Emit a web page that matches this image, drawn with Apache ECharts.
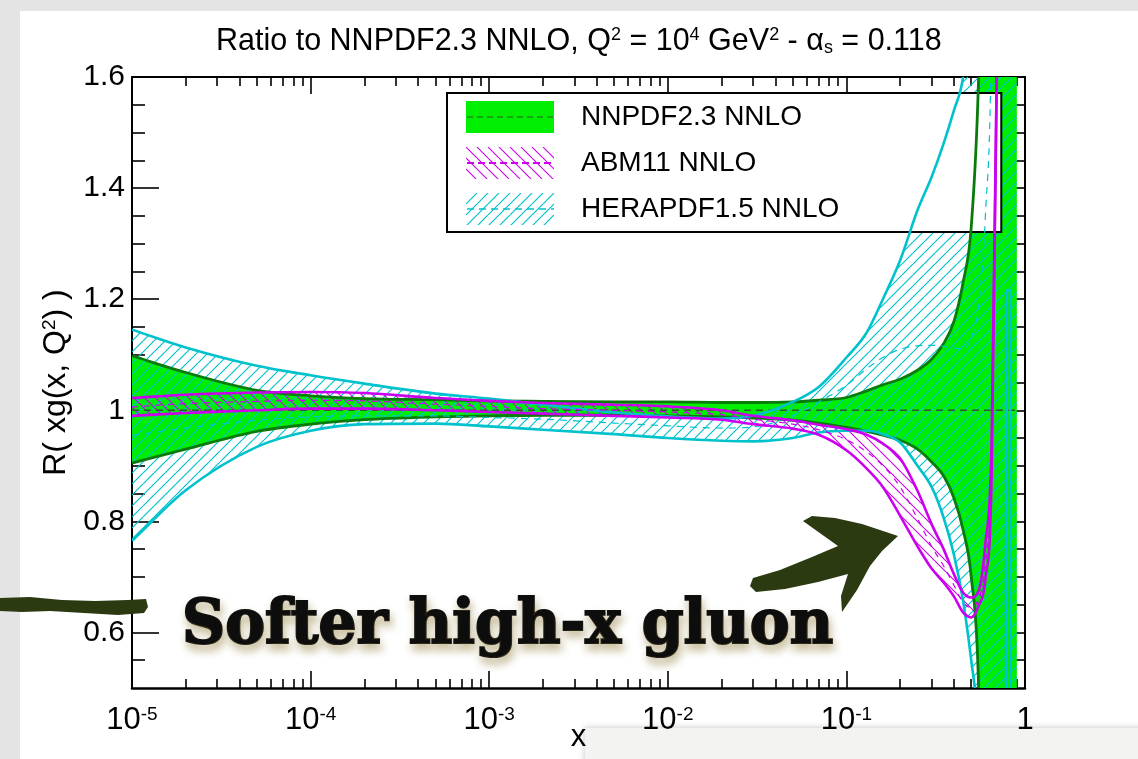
<!DOCTYPE html>
<html>
<head>
<meta charset="utf-8">
<title>Ratio to NNPDF2.3 NNLO</title>
<script src="https://cdn.jsdelivr.net/npm/echarts@6/dist/echarts.min.js"></script>
<style>
  html, body { margin: 0; padding: 0; background: #fff; }
  #chart { width: 1138px; height: 759px; }
</style>
</head>
<body>
<div id="chart"></div>
<script>
// ---- data: gluon ratio R(xg(x,Q^2)) to NNPDF2.3 NNLO at Q^2 = 10^4 GeV^2 ----
const xValues = [1e-5, 2e-5, 5e-5, 1e-4, 2e-4, 5e-4, 1e-3, 2e-3, 5e-3, 0.01, 0.02, 0.03, 0.05, 0.07,
  0.1, 0.13, 0.16, 0.2, 0.25, 0.3, 0.35, 0.4, 0.45, 0.5, 0.55, 0.6, 0.65, 0.7, 0.78, 0.785, 0.825, 0.83, 0.9];

const nnpdfUpper   = [1.098, 1.068, 1.036, 1.026, 1.021, 1.019, 1.017, 1.016, 1.015, 1.015, 1.014, 1.014, 1.015, 1.018,
  1.023, 1.035, 1.046, 1.056, 1.072, 1.092, 1.12, 1.16, 1.23, 1.33, 1.6, 2.2, 3, 3, 3, 3, 3, 3, 3];
const nnpdfLower   = [0.905, 0.930, 0.962, 0.975, 0.983, 0.988, 0.990, 0.991, 0.991, 0.990, 0.988, 0.986, 0.982, 0.977,
  0.969, 0.962, 0.955, 0.946, 0.930, 0.907, 0.882, 0.842, 0.785, 0.700, 0.50, -0.2, -1, -1, -1, -1, -1, -1, -1];
const nnpdfCentral = [1, 1, 1, 1, 1, 1, 1, 1, 1, 1, 1, 1, 1, 1, 1, 1, 1, 1, 1, 1, 1, 1, 1, 1, 1, 1, 1, 1, 1, 1, 1, 1, 1];

const abmUpper   = [1.022, 1.028, 1.032, 1.033, 1.031, 1.022, 1.017, 1.013, 1.010, 1.007, 1.000, 0.990, 0.982, 0.974,
  0.966, 0.956, 0.940, 0.913, 0.855, 0.795, 0.750, 0.705, 0.672, 0.663, 0.675, 0.760, 0.940, 1.7, 3, 3, 3, 3, 3];
const abmLower   = [0.990, 0.995, 1.000, 1.003, 1.003, 1.000, 0.997, 0.994, 0.990, 0.987, 0.983, 0.975, 0.967, 0.956,
  0.928, 0.895, 0.862, 0.810, 0.755, 0.715, 0.690, 0.665, 0.636, 0.627, 0.648, 0.695, 0.880, 1.7, 3, 3, 3, 3, 3];
const abmCentral = [1.006, 1.012, 1.016, 1.018, 1.017, 1.011, 1.007, 1.003, 1.000, 0.997, 0.992, 0.984, 0.975, 0.965,
  0.947, 0.925, 0.900, 0.862, 0.805, 0.755, 0.720, 0.685, 0.654, 0.645, 0.660, 0.725, 0.910, 1.7, 3, 3, 3, 3, 3];

const heraUpper   = [1.145, 1.113, 1.080, 1.063, 1.048, 1.030, 1.021, 1.010, 0.996, 0.989, 0.985, 0.990, 1.015, 1.042,
  1.095, 1.140, 1.200, 1.270, 1.360, 1.420, 1.480, 1.540, 1.600, 1.75, 2.0, 3, 3, 3, 3, 3, 3, 3, 3];
const heraLower   = [0.765, 0.856, 0.934, 0.963, 0.975, 0.976, 0.971, 0.965, 0.957, 0.950, 0.945, 0.944, 0.950, 0.960,
  0.963, 0.963, 0.957, 0.942, 0.900, 0.862, 0.807, 0.740, 0.657, 0.550, 0.430, 0.2, 0, -0.5, -0.5, 1.216, 1.216, -0.5, -0.5];
const heraCentral = [0.955, 0.968, 0.982, 0.988, 0.990, 0.990, 0.987, 0.984, 0.977, 0.972, 0.968, 0.970, 0.990, 1.015,
  1.045, 1.075, 1.095, 1.110, 1.116, 1.117, 1.115, 1.112, 1.110, 1.130, 1.190, 1.35, 1.7, 3, 3, 3, 3, 3, 3];

const setNames = ['NNPDF2.3 NNLO', 'ABM11 NNLO', 'HERAPDF1.5 NNLO'];

// axis ticks
const yMajorTicks = [0.6, 0.8, 1.0, 1.2, 1.4, 1.6];
const yMinorTicks = [0.55, 0.65, 0.7, 0.75, 0.85, 0.9, 0.95, 1.05, 1.1, 1.15, 1.25, 1.3, 1.35, 1.45, 1.5, 1.55];
const xDecades = [-5, -4, -3, -2, -1];
const xMinorMultiples = [2, 3, 4, 5, 6, 7, 8, 9];

// ---- styling ----
const FONT = '"Liberation Sans", Arial, Helvetica, sans-serif';
const GREEN_FILL = '#00ee00';
const GREEN_LINE = '#0a7a0a';
const GREEN_DASH = '#2c5a2c';
const MAGENTA = '#cc00ee';
const CYAN = '#00c2cc';
const ARROW = '#2b3a10';

function hatchCanvas(color, dir, size, width) {
  const c = document.createElement('canvas');
  c.width = size; c.height = size;
  const g = c.getContext('2d');
  g.strokeStyle = color; g.lineWidth = width;
  g.beginPath();
  for (const o of [-size, 0, size]) {
    if (dir === '/') { g.moveTo(o, size); g.lineTo(o + size, 0); }
    else { g.moveTo(o, 0); g.lineTo(o + size, size); }
  }
  g.stroke();
  return c;
}
const cyanHatch = { image: hatchCanvas(CYAN, '/', 11, 1.2), repeat: 'repeat' };
const magentaHatch = { image: hatchCanvas(MAGENTA, '\\', 11, 1.1), repeat: 'repeat' };

// ---- smooth monotone path through pixel points ----
function monotoneSegments(p) {
  const n = p.length, d = [], m = new Array(n);
  for (let i = 0; i < n - 1; i++) {
    const dx = p[i + 1][0] - p[i][0];
    d.push(dx > 1e-9 ? (p[i + 1][1] - p[i][1]) / dx : 0);
  }
  m[0] = d[0]; m[n - 1] = d[n - 2];
  for (let i = 1; i < n - 1; i++) m[i] = d[i - 1] * d[i] <= 0 ? 0 : (d[i - 1] + d[i]) / 2;
  for (let i = 0; i < n - 1; i++) {
    if (d[i] === 0) { m[i] = 0; m[i + 1] = 0; continue; }
    const a = m[i] / d[i], b = m[i + 1] / d[i], s = a * a + b * b;
    if (s > 9) { const t = 3 / Math.sqrt(s); m[i] = t * a * d[i]; m[i + 1] = t * b * d[i]; }
  }
  const segs = [];
  for (let i = 0; i < n - 1; i++) {
    const [x0, y0] = p[i], [x1, y1] = p[i + 1], h = (x1 - x0) / 3;
    segs.push([p[i], [x0 + h, y0 + m[i] * h], [x1 - h, y1 - m[i + 1] * h], p[i + 1]]);
  }
  return segs;
}
const f = v => v.toFixed(2);
const pt = q => f(q[0]) + ' ' + f(q[1]);
function forwardPath(segs) {
  let s = 'M' + pt(segs[0][0]);
  segs.forEach(g => { s += ' C' + pt(g[1]) + ' ' + pt(g[2]) + ' ' + pt(g[3]); });
  return s;
}
function reversePath(segs) {
  let s = ' L' + pt(segs[segs.length - 1][3]);
  for (let i = segs.length - 1; i >= 0; i--) {
    const g = segs[i];
    s += ' C' + pt(g[2]) + ' ' + pt(g[1]) + ' ' + pt(g[0]);
  }
  return s;
}
const toPixels = (api, ys) => xValues.map((x, i) => api.coord([x, ys[i]]));

function bandFill(name, upper, lower, fill, z) {
  return {
    type: 'custom', name, coordinateSystem: 'cartesian2d', xAxisIndex: 0, yAxisIndex: 0,
    clip: true, silent: true, z,
    itemStyle: { color: typeof fill === 'string' ? fill : CYAN },
    data: [[xValues[0], upper[0]]],
    encode: { x: 0, y: 1 },
    renderItem: (params, api) => {
      const up = monotoneSegments(toPixels(api, upper));
      const lo = monotoneSegments(toPixels(api, lower));
      return {
        type: 'path',
        shape: { pathData: forwardPath(up) + reversePath(lo) + ' Z' },
        style: { fill: fill, stroke: 'none' }
      };
    }
  };
}
function bandLines(name, curves, z) {
  return {
    type: 'custom', name, coordinateSystem: 'cartesian2d', xAxisIndex: 0, yAxisIndex: 0,
    clip: true, silent: true, z,
    data: [[xValues[0], curves[0].values[0]]],
    encode: { x: 0, y: 1 },
    renderItem: (params, api) => ({
      type: 'group',
      children: curves.map(c => ({
        type: 'path',
        shape: { pathData: forwardPath(monotoneSegments(toPixels(api, c.values))) },
        style: { fill: 'none', stroke: c.color, lineWidth: c.width, lineDash: c.dash || null, lineJoin: 'round' }
      }))
    })
  };
}

// ---- axes ----
const tickLine = { color: '#000', width: 1.6 };
function xAxisDef(opts) {
  return Object.assign({
    min: 1e-5, max: 1, splitLine: { show: false },
    axisLine: { show: false, onZero: false },
    axisLabel: { show: false }
  }, opts);
}
const xMinorExponents = [];
xDecades.forEach(d => xMinorMultiples.forEach(m => xMinorExponents.push(d + Math.log10(m))));

const xAxes = [
  xAxisDef({
    type: 'log', logBase: 10, position: 'bottom',
    axisLine: { show: true, onZero: false, lineStyle: { color: '#000', width: 2.6 } },
    axisTick: { show: true, inside: true, length: 17, lineStyle: tickLine },
    axisLabel: {
      show: true, margin: 17, showMinLabel: true, showMaxLabel: true,
      formatter: v => v >= 0.999 ? '{b|1}' : '{b|10}{s|' + Math.round(Math.log10(v)) + '}',
      rich: {
        b: { fontFamily: FONT, fontSize: 31, color: '#000' },
        s: { fontFamily: FONT, fontSize: 19, color: '#000', verticalAlign: 'top' }
      }
    },
    name: 'x', nameLocation: 'middle', nameGap: 34, nameMoveOverlap: false,
    nameTextStyle: { fontFamily: FONT, fontSize: 31, color: '#000' }
  }),
  xAxisDef({ type: 'value', min: -5, max: 0, position: 'bottom',
    axisTick: { show: true, inside: true, length: 9, customValues: xMinorExponents, lineStyle: tickLine } }),
  xAxisDef({ type: 'log', logBase: 10, position: 'top',
    axisLine: { show: true, onZero: false, lineStyle: { color: '#000', width: 2 } },
    axisTick: { show: true, inside: true, length: 17, lineStyle: tickLine } }),
  xAxisDef({ type: 'value', min: -5, max: 0, position: 'top',
    axisTick: { show: true, inside: true, length: 9, customValues: xMinorExponents, lineStyle: tickLine } })
];

function yAxisDef(opts) {
  return Object.assign({
    type: 'value', min: 0.5, max: 1.6, splitLine: { show: false },
    axisLine: { show: false, onZero: false },
    axisLabel: { show: false }
  }, opts);
}
const yAxes = [
  yAxisDef({
    position: 'left',
    axisLine: { show: true, onZero: false, lineStyle: { color: '#000', width: 2 } },
    axisTick: { show: true, inside: true, length: 27, customValues: yMajorTicks, lineStyle: tickLine },
    axisLabel: { show: true, customValues: yMajorTicks, margin: 7, fontFamily: FONT, fontSize: 30, color: '#000' },
    name: '{a|R( xg(x, Q}{s|2}{a|) )}', nameLocation: 'middle', nameRotate: 90, nameGap: 49,
    nameTextStyle: {
      rich: {
        a: { fontFamily: FONT, fontSize: 32, color: '#000' },
        s: { fontFamily: FONT, fontSize: 19, color: '#000', verticalAlign: 'top' }
      }
    }
  }),
  yAxisDef({ position: 'left',
    axisTick: { show: true, inside: true, length: 13, customValues: yMinorTicks, lineStyle: tickLine } }),
  yAxisDef({ position: 'right',
    axisLine: { show: true, onZero: false, lineStyle: { color: '#000', width: 2 } },
    axisTick: { show: true, inside: true, length: 27, customValues: yMajorTicks, lineStyle: tickLine } }),
  yAxisDef({ position: 'right',
    axisTick: { show: true, inside: true, length: 13, customValues: yMinorTicks, lineStyle: tickLine } })
];

// ---- annotation text scaling ----
const NOTE_FONT = '"DejaVu Serif", serif';
const noteText = 'Softer high-x gluon';
const measureCtx = document.createElement('canvas').getContext('2d');
measureCtx.font = 'bold 62px ' + NOTE_FONT;
const noteScale = 655 / (measureCtx.measureText(noteText).width + 4);

const option = {
  backgroundColor: '#ffffff',
  animation: false,
  title: {
    text: '{t|Ratio to NNPDF2.3 NNLO, Q}{p|2}{t| = 10}{p|4}{t| GeV}{p|2}{t| - α}{d|s}{t| = 0.118}',
    left: 211, top: 21,
    textStyle: {
      fontWeight: 'normal',
      rich: {
        t: { fontFamily: FONT, fontSize: 30.5, fontWeight: 'normal', color: '#000' },
        p: { fontFamily: FONT, fontSize: 18, fontWeight: 'normal', color: '#000', verticalAlign: 'top' },
        d: { fontFamily: FONT, fontSize: 18, fontWeight: 'normal', color: '#000', verticalAlign: 'bottom' }
      }
    }
  },
  grid: { left: 132, right: 113, top: 77, bottom: 71, containLabel: false, outerBoundsMode: 'none' },
  xAxis: xAxes,
  yAxis: yAxes,
  legend: {
    orient: 'vertical', left: 447, top: 93,
    padding: [8, 162, 7, 19],
    itemWidth: 88, itemHeight: 32, itemGap: 14,
    backgroundColor: '#fff', borderColor: '#000', borderWidth: 2, borderRadius: 0,
    selectedMode: false,
    textStyle: { fontFamily: FONT, fontSize: 28, color: '#000', lineHeight: 32, padding: [0, 0, 0, 22] },
    data: [
      { name: setNames[0], icon: 'rect', itemStyle: { color: GREEN_FILL, borderWidth: 0 } },
      { name: setNames[1], icon: 'rect', itemStyle: { color: magentaHatch, borderWidth: 0 } },
      { name: setNames[2], icon: 'rect', itemStyle: { color: cyanHatch, borderWidth: 0 } }
    ]
  },
  series: [
    bandFill(setNames[0], nnpdfUpper, nnpdfLower, GREEN_FILL, 2),
    bandFill(setNames[2], heraUpper, heraLower, cyanHatch, 3),
    bandFill(setNames[1], abmUpper, abmLower, magentaHatch, 4),
    bandLines(setNames[0], [
      { values: nnpdfUpper, color: GREEN_LINE, width: 2.8 },
      { values: nnpdfLower, color: GREEN_LINE, width: 2.8 },
      { values: nnpdfCentral, color: GREEN_DASH, width: 1.6, dash: [7, 5] }
    ], 5),
    bandLines(setNames[2], [
      { values: heraUpper, color: CYAN, width: 2.6 },
      { values: heraLower, color: CYAN, width: 2.6 },
      { values: heraCentral, color: CYAN, width: 1.2, dash: [7, 6] }
    ], 6),
    bandLines(setNames[1], [
      { values: abmUpper, color: MAGENTA, width: 2.6 },
      { values: abmLower, color: MAGENTA, width: 2.6 },
      { values: abmCentral, color: MAGENTA, width: 1.2, dash: [6, 6] }
    ], 7)
  ],
  graphic: [
    // page background bands
    { type: 'rect', z: -10, silent: true, shape: { x: 0, y: 0, width: 1138, height: 11 }, style: { fill: '#e4e4e4' } },
    { type: 'rect', z: -10, silent: true, shape: { x: 0, y: 0, width: 20, height: 759 }, style: { fill: '#e4e4e4' } },
    { type: 'rect', z: -5, silent: true, shape: { x: 585, y: 728, width: 560, height: 40 },
      style: { fill: '#f3f3f1', shadowBlur: 6, shadowColor: 'rgba(0,0,0,0.18)', shadowOffsetX: -1, shadowOffsetY: -1 } },
    // dashed centre markers inside the legend keys
    { type: 'line', z: 100, silent: true, shape: { x1: 467, y1: 117, x2: 554, y2: 117 },
      style: { stroke: GREEN_DASH, lineWidth: 1.2, lineDash: [6, 4] } },
    { type: 'line', z: 100, silent: true, shape: { x1: 467, y1: 163, x2: 554, y2: 163 },
      style: { stroke: MAGENTA, lineWidth: 2, lineDash: [7, 4] } },
    { type: 'line', z: 100, silent: true, shape: { x1: 467, y1: 209, x2: 554, y2: 209 },
      style: { stroke: CYAN, lineWidth: 1.4, lineDash: [7, 5] } },
    // annotation
    { type: 'text', z: 100, silent: true, x: 182, y: 627, scaleX: noteScale,
      style: { text: noteText, fontFamily: NOTE_FONT, fontWeight: 'bold', fontSize: 62, fill: '#0d0d0d',
        stroke: '#0d0d0d', lineWidth: 2.2,
        align: 'left', verticalAlign: 'middle',
        textShadowColor: 'rgba(140,120,50,0.45)', textShadowBlur: 8, textShadowOffsetX: 2, textShadowOffsetY: 6 } },
    { type: 'polygon', z: 100, silent: true,
      shape: { points: [[0, 598], [30, 597], [62, 600], [95, 601], [128, 600], [146, 599], [148, 607], [144, 613],
        [118, 615], [84, 613], [50, 611], [22, 612], [0, 611]] },
      style: { fill: ARROW } },
    { type: 'polygon', z: 100, silent: true,
      shape: { points: [[753, 578], [780, 570], [812, 557], [838, 546], [803, 521], [812, 516], [835, 518],
        [862, 524], [898, 536], [882, 551], [870, 566], [857, 590], [842, 612], [841, 596], [848, 574],
        [818, 582], [785, 589], [756, 592], [750, 586]] },
      style: { fill: ARROW } }
  ]
};

const chart = echarts.init(document.getElementById('chart'));
chart.setOption(option);
</script>
</body>
</html>
